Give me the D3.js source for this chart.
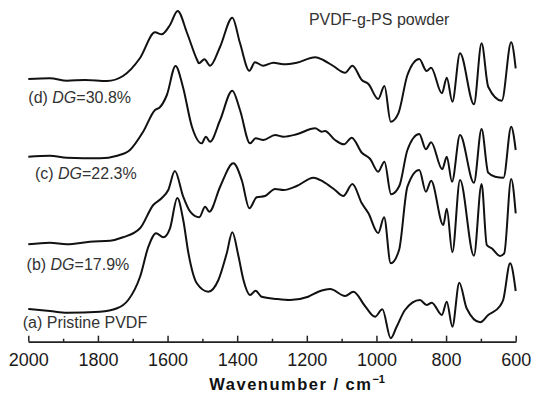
<!DOCTYPE html>
<html lang="en">
<head>
  <meta charset="UTF-8">
  <title>PVDF-g-PS FTIR</title>
  <script src="https://d3js.org/d3.v7.min.js"></script>
  <style>
    body { margin: 0; background: #fff; font-family: Arial, "Liberation Sans", sans-serif; }
    .spec { fill: none; stroke: #111; stroke-width: 2px; stroke-linejoin: round; }
    .lab { font-size: 16px; fill: #333; }
    .axis text { font-size: 18px; fill: #1a1a1a; font-family: Arial, "Liberation Sans", sans-serif; }
    .axis path, .axis line { stroke: #222; stroke-width: 1.5px; }
  </style>
</head>
<body>
  <svg id="chart" width="544" height="394"></svg>
  <script>
    // [wavenumber, intensity (a.u., offsets included)]
    const specA = [
      [2000, 32.7], [1938, 30.7], [1889, 29], [1794, 30], [1745, 33.4], [1713, 41.7],
      [1679, 65], [1655, 95], [1633, 108.4], [1612, 104.4], [1593, 113.4], [1572, 143.7],
      [1555, 121.7], [1540, 88.4], [1516, 58.4], [1483, 50], [1454, 61.7], [1430, 88.4],
      [1414, 109.4], [1397, 86.7], [1382, 61.7], [1363, 46.7], [1347, 51], [1330, 45],
      [1286, 42.7], [1248, 41.7], [1196, 45], [1167, 50], [1133, 52.7], [1090, 45.7],
      [1066, 50], [1033, 35.7], [1004, 25], [983, 32.4], [959, 3.4], [942, 15], [918, 31.7],
      [875, 41.7], [856, 36.7], [841, 39], [812, 26.7], [798, 40], [782, 15], [762, 59],
      [741, 33.4], [702, 19.4], [679, 26.7], [645, 35.7], [636, 41.7], [616, 78.4], [600, 50.7]
    ];
    const specB = [
      [2000, 97.4], [1938, 99], [1889, 97.4], [1823, 100], [1765, 101], [1728, 104.4],
      [1679, 113.4], [1641, 136.7], [1617, 143.4], [1598, 151.7], [1579, 170.7], [1555, 145],
      [1535, 130], [1509, 124.4], [1492, 135], [1480, 130], [1449, 155], [1411, 178.4],
      [1387, 161.7], [1365, 133.4], [1344, 144.4], [1320, 145.7], [1291, 152.7], [1267, 151.7],
      [1229, 155.7], [1181, 164], [1153, 160], [1119, 151.7], [1095, 145.7], [1069, 157.7],
      [1042, 138.4], [1023, 128.4], [995, 108.7], [978, 124.4], [959, 78.4], [935, 91.7],
      [911, 155], [877, 171.7], [858, 150], [843, 161], [808, 116.7], [798, 133], [782, 89.4],
      [760, 161.7], [720, 86], [698, 157.7], [683, 96.7], [669, 93.4], [645, 85.7], [633, 88.4],
      [613, 162.7], [600, 128.4]
    ];
    const specC = [
      [2000, 185], [1938, 186], [1889, 184], [1794, 183.4], [1745, 186], [1708, 191.7],
      [1670, 210], [1636, 231.7], [1622, 234.4], [1602, 246.7], [1577, 275.7], [1556, 255],
      [1530, 215], [1502, 198.4], [1490, 205], [1478, 200], [1449, 221.7], [1414, 251],
      [1392, 231.7], [1363, 198.4], [1347, 203.4], [1325, 201.7], [1291, 206.7], [1267, 205],
      [1229, 207.4], [1176, 213.4], [1157, 210], [1148, 210.7], [1119, 201.7], [1093, 197.4],
      [1071, 204], [1042, 189], [1018, 182.7], [995, 170], [977, 180], [958, 147.4], [934, 156],
      [911, 191.7], [877, 207.7], [858, 192.4], [843, 199.4], [811, 172.4], [798, 185], [783, 160],
      [760, 206.7], [720, 159], [698, 212.7], [679, 169], [659, 165], [635, 164], [613, 215],
      [600, 191.7]
    ];
    const specD = [
      [2000, 262.7], [1938, 263.4], [1889, 261], [1837, 261.7], [1774, 260.7], [1728, 265.7],
      [1679, 283.7], [1636, 309.4], [1617, 307.4], [1593, 316.7], [1571, 330.7], [1544, 308.7],
      [1515, 281.7], [1510, 278.4], [1494, 282.4], [1478, 276], [1449, 295], [1414, 324],
      [1392, 298.7], [1365, 271], [1349, 279.4], [1325, 276], [1296, 279], [1267, 277.4],
      [1229, 279], [1176, 284.4], [1153, 281.7], [1124, 275.7], [1090, 269], [1069, 276],
      [1042, 261.7], [1023, 257.7], [995, 242.7], [977, 255.7], [959, 220], [937, 228.4],
      [911, 266.7], [877, 282.7], [856, 270.7], [843, 274], [812, 248.4], [798, 264], [782, 240],
      [760, 288.4], [720, 237.4], [698, 298.4], [679, 255], [640, 241], [613, 299.4], [600, 273.4]
    ];
    const series = [specA, specB, specC, specD];

    // label text: [prefix, italic part, suffix, wavenumber, intensity]
    const labels = [
      ["(a) Pristine PVDF", "", "", 2016, 13.4],
      ["(b) ", "DG", "=17.9%", 2005, 71.7],
      ["(c) ", "DG", "=22.3%", 1981, 162.7],
      ["(d) ", "DG", "=30.8%", 2000, 239.2],
      ["PVDF-g-PS powder", "", "", 1194, 316.7]
    ];
    const majorTicks = [2000, 1800, 1600, 1400, 1200, 1000, 800, 600];
    const minorTicks = [1900, 1700, 1500, 1300, 1100, 900, 700];

    const svg = d3.select("#chart");
    const axisY = 341.7;

    const x = d3.scaleLinear().domain([2000, 600]).range([28.3, 515.7]);
    const y = d3.scaleLinear().domain([0, 330]).range([axisY, 11.7]);

    const line = d3.line()
      .x(d => x(d[0]))
      .y(d => y(d[1]))
      .curve(d3.curveMonotoneX);

    svg.append("g")
      .selectAll("path")
      .data(series)
      .join("path")
      .attr("class", "spec")
      .attr("d", line);

    const lab = svg.append("g").selectAll("text")
      .data(labels)
      .join("text")
      .attr("class", "lab")
      .attr("x", d => x(d[3]))
      .attr("y", d => y(d[4]));
    lab.append("tspan").text(d => d[0]);
    lab.filter(d => d[1]).append("tspan").attr("font-style", "italic").text(d => d[1]);
    lab.filter(d => d[2]).append("tspan").text(d => d[2]);

    svg.append("g")
      .attr("class", "axis")
      .attr("transform", `translate(0,${axisY})`)
      .call(d3.axisBottom(x).tickValues(minorTicks).tickSize(-3).tickSizeOuter(0).tickFormat(""));

    svg.append("g")
      .attr("class", "axis")
      .attr("transform", `translate(0,${axisY})`)
      .call(d3.axisBottom(x).tickValues(majorTicks).tickSize(-6).tickSizeOuter(0).tickPadding(12).tickFormat(d3.format("d")));

    const title = svg.append("text")
      .attr("x", x(1480))
      .attr("y", axisY + 48.3)
      .attr("font-size", "16.5px")
      .attr("font-weight", "bold")
      .attr("letter-spacing", "1.5px")
      .attr("fill", "#111");
    title.append("tspan").text("Wavenumber / cm");
    title.append("tspan").attr("font-size", "11px").attr("dy", "-7").attr("letter-spacing", "0").text("\u22121");
  </script>
</body>
</html>
